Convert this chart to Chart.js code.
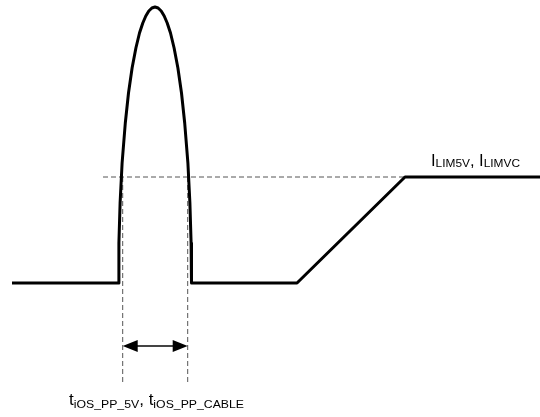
<!DOCTYPE html>
<html>
<head>
<meta charset="utf-8">
<script src="https://cdn.jsdelivr.net/npm/chart.js@4"></script>
<style>
  html, body { margin: 0; padding: 0; background: #fff; }
  #wrap { width: 540px; height: 417px; }
</style>
</head>
<body>
<div id="wrap"><canvas id="c" width="540" height="417"></canvas></div>
<script>
// current waveform (time, current)
const waveTime = [12, 118.5, 118.9, 120.1, 122.1, 125.3, 128.5, 132.1, 135.9, 139.5, 142.8, 145.8, 148.8, 151.9, 155,
  158.1, 161.2, 164.2, 167.2, 170.5, 174.1, 177.9, 181.5, 184.7, 187.9, 189.9, 191.1, 191.5, 297, 405, 540];
const waveCurrent = [134, 134, 174, 214, 254, 294, 324, 349, 369, 384, 394, 401, 406, 409, 410,
  409, 406, 401, 394, 384, 369, 349, 324, 294, 254, 214, 174, 134, 134, 240, 240];

// current limit level
const limitTime = [103, 405];
const limitCurrent = 240;

// iOS_PP window markers
const windowTime = [122.7, 187.7];
const windowCurrent = [240, 34];
const arrowCurrent = 71;

const limitLabel = [['I', 0], ['LIM5V', 1], [', ', 0], ['I', 0], ['LIMVC', 1]];
const windowLabel = [['t', 0], ['iOS_PP_5V', 1], [', ', 0], ['t', 0], ['iOS_PP_CABLE', 1]];

const pts = (xs, ys) => xs.map((x, i) => ({ x, y: ys[i] }));

const dashed = { borderColor: '#555', borderWidth: 1, borderDash: [5, 3], pointRadius: 0, showLine: true };

const labelPlugin = {
  id: 'labels',
  afterDatasetsDraw(chart) {
    const ctx = chart.ctx;
    const xs = chart.scales.x, ys = chart.scales.y;

    // arrow heads
    const ay = ys.getPixelForValue(arrowCurrent);
    const l = xs.getPixelForValue(windowTime[0]);
    const r = xs.getPixelForValue(windowTime[1]);
    ctx.save();
    ctx.fillStyle = '#000';
    ctx.beginPath();
    ctx.moveTo(l, ay); ctx.lineTo(l + 15, ay - 6); ctx.lineTo(l + 15, ay + 6); ctx.closePath();
    ctx.moveTo(r, ay); ctx.lineTo(r - 15, ay - 6); ctx.lineTo(r - 15, ay + 6); ctx.closePath();
    ctx.fill();
    ctx.restore();

    const mainFont = '16px "Liberation Sans", Arial, sans-serif';
    const subFont = '11.5px "Liberation Sans", Arial, sans-serif';
    function drawLabel(parts, x, y, width, subDrop) {
      ctx.save();
      ctx.fillStyle = '#000';
      ctx.textBaseline = 'alphabetic';
      let w = 0;
      parts.forEach(([s, sub]) => {
        ctx.font = sub ? subFont : mainFont;
        w += ctx.measureText(s).width;
      });
      ctx.translate(x, y);
      ctx.scale(width / w, 1);
      let cx = 0;
      parts.forEach(([s, sub]) => {
        ctx.font = sub ? subFont : mainFont;
        ctx.fillText(s, cx, sub ? subDrop : 0);
        cx += ctx.measureText(s).width;
      });
      ctx.restore();
    }
    drawLabel(limitLabel, xs.getPixelForValue(431), ys.getPixelForValue(251.5), 89, 1);
    drawLabel(windowLabel, xs.getPixelForValue(69), ys.getPixelForValue(12), 175, 2.5);
  }
};

new Chart(document.getElementById('c'), {
  type: 'scatter',
  data: {
    datasets: [
      { data: pts(waveTime, waveCurrent), borderColor: '#000', borderWidth: 3, pointRadius: 0, showLine: true,
        borderJoinStyle: 'round', order: 0 },
      { data: pts(limitTime, [limitCurrent, limitCurrent]), ...dashed, order: 1 },
      { data: pts([windowTime[0], windowTime[0]], windowCurrent), ...dashed, order: 1 },
      { data: pts([windowTime[1], windowTime[1]], windowCurrent), ...dashed, order: 1 },
      { data: pts([windowTime[0] + 14, windowTime[1] - 14], [arrowCurrent, arrowCurrent]), borderColor: '#444',
        borderWidth: 2, pointRadius: 0, showLine: true, order: 1 }
    ]
  },
  options: {
    responsive: false,
    animation: false,
    clip: false,
    layout: { padding: 0 },
    plugins: { legend: { display: false }, tooltip: { enabled: false } },
    scales: {
      x: { type: 'linear', min: 0, max: 540, display: false },
      y: { type: 'linear', min: 0, max: 417, display: false }
    }
  },
  plugins: [labelPlugin]
});
</script>
</body>
</html>
